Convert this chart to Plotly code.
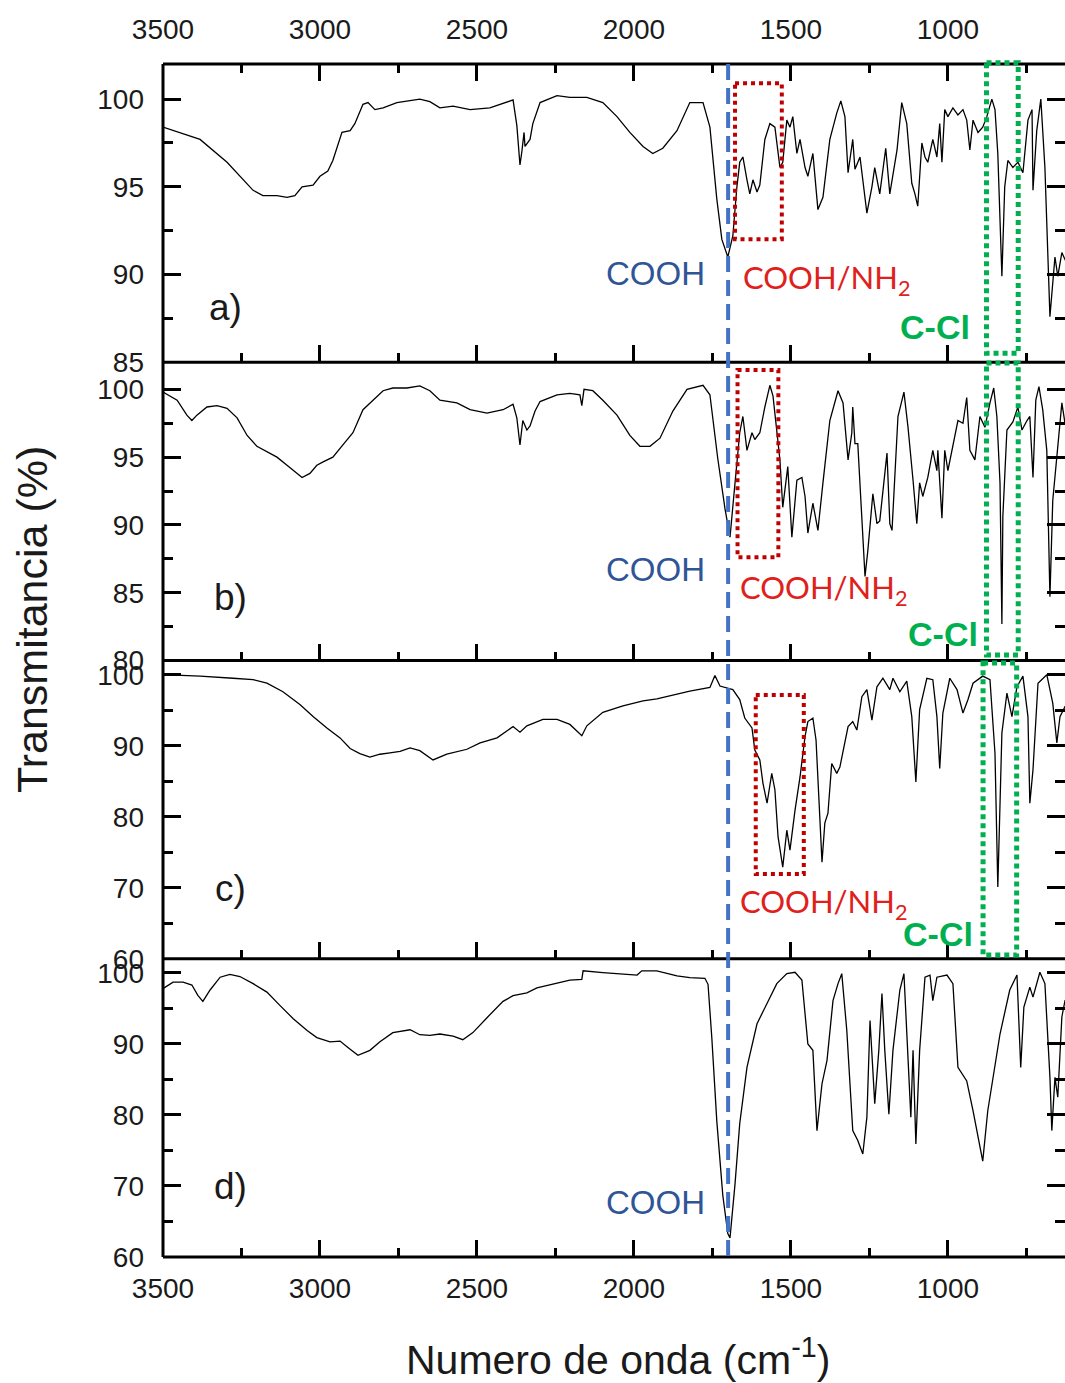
import plotly.graph_objects as go

# FTIR spectra: (wavenumber cm-1, transmittance %)
spec_a = [(3500, 98.4), (3382, 97.7), (3296, 96.4), (3255, 95.6), (3213, 94.8), (3182, 94.5), (3137, 94.5),
          (3105, 94.4), (3080, 94.5), (3057, 95.0), (3022, 95.1), (3000, 95.6), (2975, 95.9), (2959, 96.5),
          (2930, 98.1), (2904, 98.2), (2889, 98.6), (2863, 99.7), (2847, 99.8), (2825, 99.4), (2799, 99.5),
          (2755, 99.8), (2682, 100.0), (2650, 99.85), (2618, 99.5), (2576, 99.6), (2522, 99.4), (2459, 99.5),
          (2395, 99.9), (2385, 99.95), (2373, 98.5), (2363, 96.25), (2357, 97.0), (2350, 98.1), (2347, 97.3),
          (2331, 97.7), (2322, 98.6), (2299, 99.8), (2245, 100.2), (2204, 100.1), (2150, 100.1), (2099, 99.8),
          (2054, 99.0), (2013, 98.1), (1971, 97.3), (1940, 96.9), (1908, 97.2), (1863, 98.2), (1822, 99.8),
          (1780, 99.8), (1758, 98.4), (1736, 94.3), (1720, 92.0), (1710, 91.5), (1701, 91.0), (1685, 92.2),
          (1672, 95.0), (1663, 96.4), (1653, 96.7), (1640, 95.4), (1631, 94.6), (1621, 95.4), (1608, 94.7),
          (1599, 95.1), (1583, 97.7), (1567, 98.6), (1551, 98.4), (1535, 96.1), (1526, 96.4), (1513, 98.8),
          (1503, 98.4), (1494, 99.0), (1481, 96.9), (1471, 97.7), (1455, 96.1), (1446, 95.6), (1430, 96.9),
          (1414, 93.7), (1398, 94.4), (1376, 97.7), (1354, 99.2), (1341, 99.9), (1328, 99.0), (1318, 95.8),
          (1303, 97.7), (1296, 96.0), (1280, 96.7), (1258, 93.5), (1242, 95.0), (1233, 96.1), (1217, 94.6),
          (1198, 97.2), (1185, 94.6), (1162, 97.1), (1147, 99.8), (1131, 98.6), (1115, 95.2), (1105, 94.6),
          (1096, 93.9), (1083, 97.5), (1073, 96.7), (1064, 96.4), (1048, 97.7), (1035, 96.7), (1026, 98.6),
          (1019, 96.4), (1010, 99.4), (1000, 99.0), (984, 99.5), (968, 99.1), (952, 99.4), (940, 98.8),
          (930, 97.1), (920, 98.8), (904, 98.1), (889, 98.4), (876, 99.0), (860, 100.0), (850, 99.4),
          (841, 96.9), (828, 89.9), (819, 95.0), (809, 96.5), (793, 96.1), (777, 96.4), (761, 95.8),
          (745, 98.8), (732, 99.4), (729, 94.8), (717, 98.2), (704, 100.0), (691, 96.1), (675, 87.6),
          (659, 91.0), (650, 89.9), (637, 91.25), (627, 90.9), (618, 90.5)]

spec_b = [(3500, 99.8), (3455, 99.2), (3424, 98.1), (3408, 97.7), (3392, 98.1), (3360, 98.7), (3328, 98.8),
          (3296, 98.6), (3264, 97.9), (3232, 96.6), (3201, 95.8), (3169, 95.4), (3137, 95.0), (3105, 94.4),
          (3073, 93.8), (3057, 93.5), (3032, 93.8), (3010, 94.4), (2990, 94.65), (2959, 95.0), (2927, 95.9),
          (2895, 96.8), (2863, 98.5), (2831, 99.2), (2799, 99.9), (2768, 100.1), (2723, 100.1), (2682, 100.25),
          (2650, 99.9), (2618, 99.2), (2564, 99.0), (2522, 98.5), (2468, 98.25), (2417, 98.5), (2385, 98.9),
          (2373, 97.9), (2363, 95.9), (2354, 97.7), (2341, 97.0), (2331, 97.3), (2315, 98.4), (2299, 99.1),
          (2245, 99.6), (2204, 99.7), (2172, 99.6), (2166, 98.8), (2159, 100.0), (2131, 99.9), (2099, 99.2),
          (2054, 98.1), (2013, 96.6), (1981, 95.8), (1949, 95.8), (1917, 96.4), (1876, 98.4), (1831, 100.0),
          (1780, 100.3), (1758, 99.6), (1733, 94.9), (1710, 91.2), (1694, 89.1), (1678, 93.1), (1663, 96.8),
          (1653, 98.0), (1640, 95.5), (1624, 96.8), (1615, 96.3), (1599, 96.8), (1583, 98.7), (1567, 100.3),
          (1557, 99.5), (1535, 94.8), (1526, 91.3), (1510, 94.3), (1497, 89.1), (1481, 93.3), (1465, 93.5),
          (1455, 92.1), (1446, 89.4), (1430, 91.6), (1414, 89.6), (1398, 93.1), (1376, 97.7), (1350, 99.9),
          (1334, 99.0), (1318, 94.8), (1306, 96.8), (1303, 98.7), (1296, 96.0), (1287, 96.0), (1271, 88.6),
          (1264, 86.2), (1255, 88.1), (1239, 92.3), (1226, 90.1), (1217, 90.3), (1194, 95.3), (1185, 90.1),
          (1178, 89.6), (1159, 98.0), (1140, 99.8), (1127, 97.2), (1111, 93.3), (1099, 90.1), (1090, 93.1),
          (1080, 92.1), (1064, 93.5), (1048, 95.5), (1035, 94.0), (1032, 95.5), (1019, 90.5), (1010, 95.5),
          (1000, 94.0), (984, 96.0), (968, 97.7), (952, 97.5), (940, 99.4), (930, 95.5), (914, 94.8),
          (898, 98.0), (882, 97.2), (866, 99.0), (854, 100.1), (844, 98.0), (834, 93.1), (828, 82.7),
          (825, 90.6), (812, 97.0), (793, 97.6), (777, 98.7), (764, 97.0), (748, 97.7), (739, 98.0),
          (729, 93.5), (720, 99.2), (710, 100.2), (698, 98.5), (685, 95.5), (675, 84.7), (666, 91.8),
          (650, 95.5), (637, 99.0), (627, 97.5), (618, 97.0)]

spec_c = [(3500, 100.0), (3382, 99.8), (3277, 99.5), (3213, 99.3), (3169, 98.8), (3118, 97.6), (3064, 95.8),
          (3022, 94.1), (2978, 92.5), (2936, 91.1), (2904, 89.6), (2873, 88.9), (2841, 88.4), (2809, 88.8),
          (2777, 89.0), (2745, 89.2), (2713, 89.7), (2682, 89.3), (2640, 88.0), (2596, 88.8), (2532, 89.5),
          (2490, 90.4), (2436, 91.1), (2385, 92.7), (2363, 91.9), (2341, 92.8), (2290, 93.7), (2245, 93.7),
          (2204, 93.0), (2166, 91.4), (2150, 92.8), (2099, 94.7), (2035, 95.6), (1971, 96.3), (1927, 96.6),
          (1885, 97.0), (1822, 97.7), (1758, 98.2), (1742, 99.9), (1726, 98.4), (1694, 98.0), (1685, 97.9),
          (1663, 96.5), (1647, 93.9), (1624, 92.5), (1615, 89.4), (1599, 88.0), (1589, 84.7), (1576, 81.9),
          (1561, 86.1), (1551, 83.8), (1541, 77.2), (1526, 72.9), (1513, 78.1), (1503, 75.3), (1487, 80.9),
          (1471, 85.6), (1455, 91.3), (1446, 93.4), (1430, 93.9), (1420, 90.8), (1411, 82.3), (1401, 73.6),
          (1392, 79.1), (1382, 80.5), (1370, 87.5), (1354, 86.1), (1344, 87.0), (1334, 89.4), (1318, 92.7),
          (1303, 93.4), (1290, 92.2), (1274, 96.9), (1258, 97.9), (1242, 93.6), (1226, 98.3), (1207, 99.5),
          (1185, 97.9), (1175, 99.5), (1153, 97.6), (1131, 99.1), (1115, 94.1), (1102, 84.9), (1090, 95.1),
          (1067, 99.5), (1048, 99.3), (1035, 94.1), (1026, 86.8), (1016, 94.6), (994, 99.5), (971, 97.9),
          (952, 94.6), (936, 96.5), (920, 98.8), (889, 99.8), (866, 99.3), (850, 88.9), (841, 70.1),
          (828, 91.8), (812, 97.4), (796, 94.1), (780, 98.3), (761, 99.8), (745, 94.1), (739, 81.9),
          (729, 86.6), (713, 98.8), (685, 100.0), (666, 96.0), (653, 90.4), (643, 94.1), (627, 95.5),
          (618, 96.0)]

spec_d = [(3500, 97.8), (3468, 98.7), (3436, 98.7), (3408, 98.3), (3389, 96.85), (3373, 96.0), (3350, 97.6),
          (3318, 99.4), (3287, 99.8), (3255, 99.5), (3213, 98.5), (3169, 97.3), (3127, 95.4), (3086, 93.6),
          (3041, 91.9), (3010, 90.9), (2968, 90.3), (2936, 90.4), (2911, 89.5), (2879, 88.4), (2841, 89.1),
          (2809, 90.3), (2768, 91.6), (2713, 92.0), (2682, 91.3), (2650, 91.2), (2618, 91.4), (2576, 91.1),
          (2545, 90.6), (2513, 91.6), (2468, 93.7), (2417, 96.0), (2385, 96.8), (2341, 97.2), (2309, 97.9),
          (2245, 98.6), (2204, 99.0), (2166, 99.1), (2162, 100.3), (2099, 100.05), (2035, 99.9), (1990, 99.7),
          (1975, 100.3), (1927, 100.3), (1863, 99.6), (1822, 99.35), (1774, 99.25), (1764, 98.4), (1752, 90.9),
          (1736, 79.1), (1717, 68.7), (1701, 63.3), (1694, 62.7), (1678, 70.3), (1663, 78.8), (1640, 86.7),
          (1608, 92.85), (1576, 95.7), (1545, 98.5), (1513, 99.9), (1487, 100.1), (1465, 99.0), (1446, 90.0),
          (1430, 89.1), (1417, 77.8), (1401, 84.4), (1385, 87.7), (1366, 96.1), (1350, 98.5), (1338, 99.9),
          (1322, 91.9), (1303, 77.8), (1287, 76.4), (1271, 74.5), (1258, 79.7), (1248, 93.3), (1239, 85.3),
          (1233, 81.6), (1220, 89.1), (1210, 97.1), (1201, 89.1), (1188, 80.1), (1175, 89.1), (1153, 97.6),
          (1140, 99.9), (1127, 89.1), (1118, 79.7), (1111, 89.1), (1102, 75.9), (1090, 89.1), (1073, 99.4),
          (1057, 99.7), (1048, 96.1), (1035, 99.4), (1003, 99.7), (984, 98.5), (968, 86.7), (940, 84.8),
          (920, 80.6), (889, 73.5), (873, 80.6), (834, 91.4), (803, 97.6), (780, 99.7), (768, 86.7),
          (758, 95.2), (739, 98.0), (729, 96.6), (707, 100.1), (691, 98.5), (675, 85.3), (669, 77.8),
          (659, 85.3), (650, 82.5), (637, 93.8), (627, 96.1), (618, 96.5)]

panel_labels = ["a)", "b)", "c)", "d)"]
y_ranges = [[85, 102], [80, 102], [60, 102], [60, 102]]
y_dticks = [5, 5, 10, 10]
x_range = [3500, 627]
cooh_band = 1700                       # C=O stretch of the acid group
amine_bands = [(1678, 1529), (1670, 1540), (1612, 1459)]   # COOH/NH2 region, panels a-c
ccl_bands = [(877, 776), (877, 776), (888, 781)]           # C-Cl region, panels a-c

FONT = "Liberation Sans, Arial, sans-serif"
domains = [[0.75, 1.0], [0.5, 0.75], [0.25, 0.5], [0.0, 0.25]]

fig = go.Figure()
for i, spec in enumerate([spec_a, spec_b, spec_c, spec_d]):
    wn = [p[0] for p in spec]
    tr = [p[1] for p in spec]
    sfx = "" if i == 0 else str(i + 1)
    fig.add_trace(go.Scatter(x=wn, y=tr, mode="lines", line=dict(color="black", width=1.3),
                             xaxis="x" + sfx, yaxis="y" + sfx, showlegend=False, hoverinfo="skip"))

tickfont = dict(family=FONT, size=28, color="#1a1a1a")
layout = dict(width=1065, height=1383, margin=dict(l=163, r=0, t=64, b=126),
              paper_bgcolor="white", plot_bgcolor="white", showlegend=False,
              font=dict(family=FONT, color="black"))

for i in range(4):
    sfx = "" if i == 0 else str(i + 1)
    xa = dict(domain=[0, 1], range=x_range, anchor="y" + sfx, dtick=500, tick0=0,
              ticks="inside", ticklen=17, tickwidth=3, tickcolor="black",
              minor=dict(ticks="inside", ticklen=9, tickwidth=3, tickcolor="black", dtick=250, tick0=0),
              showgrid=False, zeroline=False, showline=False, automargin=False,
              tickfont=tickfont, showticklabels=(i in (0, 3)), ticklabelstandoff=12)
    if i == 0:
        xa.update(side="top", mirror="ticks", ticklabelstandoff=18)
    else:
        xa.update(side="bottom")
    ya = dict(domain=domains[i], range=y_ranges[i], anchor="x" + sfx, dtick=y_dticks[i], tick0=0,
              ticks="inside", ticklen=18, tickwidth=3, tickcolor="black", mirror="ticks",
              minor=dict(ticks="inside", ticklen=10, tickwidth=3, tickcolor="black",
                         dtick=y_dticks[i] / 2, tick0=0),
              showgrid=False, zeroline=False, showline=False, automargin=False,
              tickfont=tickfont, ticklabelstandoff=18)
    layout["xaxis" + sfx] = xa
    layout["yaxis" + sfx] = ya

shapes = []
# frame: left edge and panel separators
shapes.append(dict(type="line", xref="paper", yref="paper", x0=0, x1=0, y0=0, y1=1,
                   line=dict(color="black", width=3)))
for yb in [0, 0.25, 0.5, 0.75, 1.0]:
    shapes.append(dict(type="line", xref="paper", yref="paper", x0=0, x1=1, y0=yb, y1=yb,
                       line=dict(color="black", width=3)))

# dashed marker of the COOH band through all panels
shapes.append(dict(type="line", xref="x", yref="paper", x0=cooh_band, x1=cooh_band, y0=1.0, y1=-0.004,
                   line=dict(color="#4472C4", width=4, dash="16px,8px")))

# COOH/NH2 and C-Cl boxes
red_y = [(0.9838, 0.8531), (0.7435, 0.5865), (0.4711, 0.3210)]
green_y = [(1.0011, 0.7575), (0.7494, 0.5046), (0.4979, 0.2531)]
for (x0, x1), (y0, y1) in zip(amine_bands, red_y):
    shapes.append(dict(type="rect", xref="x", yref="paper", x0=x0, x1=x1, y0=y0, y1=y1,
                       line=dict(color="#C00000", width=4, dash="4px,4px")))
for (x0, x1), (y0, y1) in zip(ccl_bands, green_y):
    shapes.append(dict(type="rect", xref="x", yref="paper", x0=x0, x1=x1, y0=y0, y1=y1,
                       line=dict(color="#00B050", width=5, dash="5px,4px")))
layout["shapes"] = shapes

ann = []
letter_pos = [(0.0698, 0.7955), (0.0743, 0.5532), (0.0743, 0.3093), (0.0743, 0.0595)]
for txt, (x, y) in zip(panel_labels, letter_pos):
    ann.append(dict(text=txt, x=x, y=y, xref="paper", yref="paper", showarrow=False,
                    xanchor="center", yanchor="middle", font=dict(family=FONT, size=37, color="#1a1a1a")))

for y in [0.8248, 0.5759, 0.0453]:
    ann.append(dict(text="COOH", x=0.5455, y=y, xref="paper", yref="paper", showarrow=False,
                    xanchor="center", yanchor="middle", font=dict(family=FONT, size=33, color="#2F5597")))

for x, y in [(0.6408, 0.819), (0.6375, 0.5591), (0.6375, 0.2967)]:
    ann.append(dict(text="COOH/NH<sub>2</sub>", x=x, y=y, xref="paper", yref="paper", showarrow=False,
                    xanchor="left", yanchor="middle", font=dict(family="Lato, sans-serif", size=31, color="#E0201B")))

for x, y in [(0.8556, 0.7795), (0.8647, 0.5222), (0.8592, 0.2707)]:
    ann.append(dict(text="<b>C-Cl</b>", x=x, y=y, xref="paper", yref="paper", showarrow=False,
                    xanchor="center", yanchor="middle", font=dict(family=FONT, size=34, color="#00B050")))

ann.append(dict(text="Numero de onda (cm<sup>-1</sup>)", x=0.5044, y=-0.0838, xref="paper", yref="paper",
                showarrow=False, xanchor="center", yanchor="middle",
                font=dict(family=FONT, size=41, color="#1a1a1a")))
ann.append(dict(text="Transmitancia (%)", x=-0.1452, y=0.534, xref="paper", yref="paper",
                showarrow=False, xanchor="center", yanchor="middle", textangle=-90,
                font=dict(family=FONT, size=43, color="#1a1a1a")))
layout["annotations"] = ann

fig.update_layout(**layout)
fig.write_html("out.html")
